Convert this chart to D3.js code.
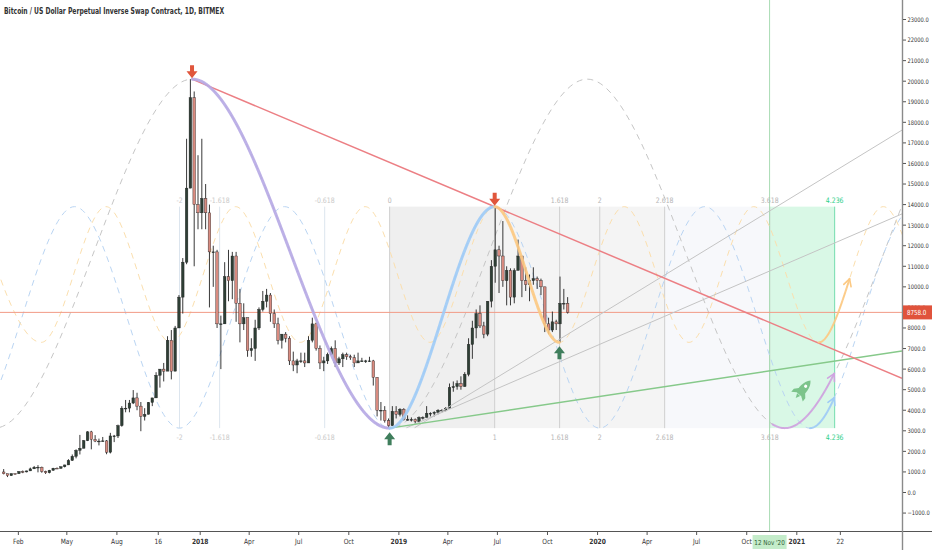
<!DOCTYPE html>
<html>
<head>
<meta charset="utf-8">
<title>Bitcoin / US Dollar Perpetual Inverse Swap Contract, 1D</title>
<style>
  html, body { margin: 0; padding: 0; background: #fff; overflow: hidden; }
  svg { display: block; }
  text { font-family: "Liberation Sans Narrow", "Arial Narrow", "DejaVu Sans Condensed", "Liberation Sans", sans-serif; }
</style>
<script src="https://d3js.org/d3.v7.min.js"></script>
</head>
<body>
<div id="chart"></div>
<script>
// ---- data (weekly candles) ----
const weekStart = "2017-01-02";
const firstOpen = 998;
const weeklyHigh = [
  1140, 910, 920, 925, 1040, 1070, 1060, 1210, 1290, 1330, 1260, 1060, 1100, 1200, 1220, 1270, 1350, 1620, 1850, 2100,
  2800, 2550, 2980, 3000, 2790, 2620, 2700, 2550, 2900, 2800, 3300, 4200, 4500, 4500, 4980, 4850, 4400, 4100, 4400, 4600,
  5850, 6000, 6300, 7600, 7900, 8100, 9600, 11400, 17200, 20100, 19500, 16400,
  17200, 15000, 14000, 12000, 11800, 8600, 11200, 11800, 11700, 11700, 9900, 9200, 8500, 7500, 8400, 9000, 9800, 9900,
  9700, 8900, 8500, 7700, 7800, 7600, 6850, 6500, 6800, 6800, 7600, 8500, 8250, 7150, 6600, 6800, 7100, 7400, 6600, 6800,
  6800, 6700, 6700, 6800, 6550, 6450, 6600, 6450, 5600, 4400, 4200, 3600, 4200, 4200,
  4100, 4100, 3750, 3650, 3600, 3700, 3700, 4200, 3900, 3950, 4050, 4050, 4150, 5300, 5400, 5450, 5650, 5850, 7500, 8350,
  8900, 9100, 8300, 9300, 11300, 13900, 12000, 13200, 11000, 10900, 10900, 12300, 11500, 10950, 10600, 10950, 10500, 10400,
  10000, 8500, 8800, 8400, 10500, 9900, 9500
];
const weeklyLow = [
  880, 750, 820, 880, 910, 940, 980, 1050, 1150, 980, 960, 900, 930, 1060, 1160, 1170, 1220, 1340, 1540, 1660,
  1850, 2150, 2500, 2100, 2450, 2290, 2480, 1860, 1900, 2450, 2650, 3200, 3900, 3900, 4300, 4000, 2980, 3500, 3800, 4200,
  4600, 5100, 5400, 6100, 5500, 5900, 8000, 8700, 11100, 14800, 11000, 12800,
  12800, 12800, 9000, 10000, 8000, 6000, 8200, 9300, 9400, 8300, 7300, 7900, 6600, 6600, 6400, 7900, 8800, 9000,
  8300, 8000, 7200, 7000, 7300, 6200, 5900, 5800, 6300, 6100, 6300, 7300, 6900, 6000, 5900, 6250, 6700, 6100, 6200, 6100,
  6450, 6450, 6100, 6300, 6350, 6300, 6350, 5200, 3700, 3500, 3400, 3130, 3250, 3600,
  3700, 3500, 3500, 3450, 3350, 3400, 3550, 3650, 3700, 3700, 3800, 3900, 3950, 4100, 4900, 5000, 5000, 5150, 5650, 6500,
  7500, 8000, 7500, 7600, 9000, 10200, 9700, 10000, 9100, 9100, 9200, 10800, 9500, 9800, 9300, 10100, 9900, 9600,
  7800, 7700, 7800, 7900, 7300, 8900, 8700
];
const weeklyClose = [
  910, 820, 920, 915, 1020, 1000, 1050, 1150, 1230, 1230, 1020, 960, 1080, 1180, 1170, 1250, 1340, 1560, 1760, 2050,
  2150, 2520, 2950, 2580, 2500, 2500, 2510, 1960, 2750, 2750, 3250, 4100, 4100, 4350, 4600, 4200, 3700, 3800, 4380, 4600,
  5700, 6000, 5900, 7400, 5900, 8000, 9500, 11200, 14800, 19200, 14000, 13600,
  14300, 13600, 11700, 11700, 8200, 8200, 10500, 10300, 11500, 9200, 8200, 8500, 6900, 7000, 8000, 8900, 9300, 9600,
  8700, 8200, 7400, 7700, 7500, 6400, 6200, 6400, 6400, 6300, 7400, 8200, 7000, 6300, 6400, 6700, 7000, 6300, 6500, 6700,
  6600, 6550, 6300, 6400, 6400, 6400, 6400, 5600, 4000, 4000, 3500, 3250, 3950, 3800,
  4050, 3550, 3550, 3550, 3450, 3650, 3650, 3850, 3850, 3900, 4000, 4000, 4100, 5100, 5150, 5300, 5150, 5750, 7200, 8000,
  8700, 8100, 7700, 9300, 11000, 11800, 11500, 10300, 10800, 9500, 10800, 11500, 10300, 10100, 10300, 10400, 10300, 10000,
  8200, 7900, 8300, 8200, 9200, 9200, 8758
];
const lastPrice = 8758;

// drawings: [date, price] anchors
const trendRed   = [["2017-12-17", 20100], ["2019-06-26", 13900]];
const trendGreen = [["2018-12-15", 3130], ["2021-07-13", 6880]];
const trendGrayA = [["2019-01-30", 3150], ["2019-10-23", 7450]];
const trendGrayB = [["2019-01-15", 3150], ["2020-03-19", 8050]];

const cycleGray   = [["2017-12-17", 20100], ["2018-12-15", 3130]];
const cycleBlue   = [["2018-12-15", 3130], ["2019-06-26", 13900]];
const cycleOrange = [["2019-06-26", 13900], ["2019-10-23", 7300]];

const fibAnchors = ["2018-12-15", "2019-06-26"];
const fibPrices = [3130, 13900];
const fibLevels = [-2, -1.618, -0.618, 0, 1, 1.618, 2, 2.618, 3.618, 4.236];

const downArrows = [["2017-12-17", 20100], ["2019-06-26", 13900]];
const upArrows = [["2018-12-15", 3130], ["2019-10-23", 7300]];
const rocketAt = ["2021-01-12", 5000];

const crossDate = "2020-11-12";
const crossLabel = "12 Nov '20";

const xTickDates = ["2017-02-01", "2017-05-01", "2017-08-01", "2017-10-16", "2018-01-01", "2018-04-01", "2018-07-01",
  "2018-10-01", "2019-01-01", "2019-04-01", "2019-07-01", "2019-10-01", "2020-01-01", "2020-04-01", "2020-07-01",
  "2020-10-01", "2021-01-01", "2021-03-22"];
const xTickLabels = ["Feb", "May", "Aug", "16", "2018", "Apr", "Jul", "Oct", "2019", "Apr", "Jul", "Oct", "2020",
  "Apr", "Jul", "Oct", "2021", "22"];
const yTicks = d3.range(-1000, 23001, 1000);

// ---- layout ----
const width = 932, height = 550;
const plotR = 902, plotB = 531;
const parse = d3.utcParse("%Y-%m-%d");
const DAY = 864e5;

const x = d3.scaleUtc()
  .domain([parse("2017-01-01"), parse("2021-01-01")])
  .range([1.5, 796.8]);
const y = d3.scaleLinear().domain([0, 23000]).range([492.5, 19.5]);

const svg = d3.select("#chart").append("svg")
  .attr("width", width).attr("height", height);

svg.append("defs").append("clipPath").attr("id", "plot")
  .append("rect").attr("x", 0).attr("y", 0).attr("width", plotR).attr("height", plotB);

const plot = svg.append("g").attr("clip-path", "url(#plot)");

// squeeze text a little toward the condensed look of the original
function narrow(sel, f) {
  sel.each(function () {
    const w = this.getComputedTextLength();
    d3.select(this).attr("textLength", w * f).attr("lengthAdjust", "spacingAndGlyphs");
  });
}

// ---- fib time zones ----
const f0 = parse(fibAnchors[0]).getTime(), f1 = parse(fibAnchors[1]).getTime();
const fibX = lv => x(new Date(f0 + lv * (f1 - f0)));
const fibTop = y(fibPrices[1]), fibBot = y(fibPrices[0]);

const zones = [[0, 1, "#efefef"], [1, 2.618, "#f4f4f4"], [2.618, 3.618, "#f7f8fb"], [3.618, 4.236, "#d9f8e6"]];
plot.selectAll(".zone").data(zones).enter().append("rect")
  .attr("x", d => fibX(d[0])).attr("width", d => fibX(d[1]) - fibX(d[0]))
  .attr("y", fibTop).attr("height", fibBot - fibTop)
  .attr("fill", d => d[2]);

const lvColor = lv => lv < 0 ? "#dce5ee" : lv === 4.236 ? "#74dcae" : "#cfcfcf";
const lbColor = lv => lv < 0 ? "#c9c9c9" : lv === 4.236 ? "#2ccf8a" : "#b5b5b5";
plot.selectAll(".fibline").data(fibLevels).enter().append("line")
  .attr("x1", fibX).attr("x2", fibX).attr("y1", fibTop).attr("y2", fibBot)
  .attr("stroke", lvColor).attr("stroke-width", 1);

// crosshair vertical
plot.append("line")
  .attr("x1", x(parse(crossDate))).attr("x2", x(parse(crossDate)))
  .attr("y1", 0).attr("y2", plotB)
  .attr("stroke", "#a9dcb3").attr("stroke-width", 1);

// ---- sine cycles ----
function cyclePoints(c) {
  const ta = parse(c[0][0]).getTime(), tb = parse(c[1][0]).getTime(), half = tb - ta;
  const pts = [];
  for (let k = -8; k <= 10; k++) {
    const px = x(new Date(ta + k * half));
    if (px < -400 || px > 1300) continue;
    pts.push([px, y(k % 2 === 0 ? c[0][1] : c[1][1])]);
  }
  return pts;
}
const curve = d3.line().curve(d3.curveMonotoneX);

function drawCycle(c, color, dash) {
  const p = plot.append("path")
    .attr("d", curve(cyclePoints(c)))
    .attr("fill", "none").attr("stroke", color)
    .attr("stroke-width", 1).attr("stroke-dasharray", dash);
  const node = p.node(), len = node.getTotalLength(), samples = [];
  for (let l = 0; l <= len; l += 0.5) {
    const q = node.getPointAtLength(l);
    samples.push([q.x, q.y]);
  }
  return samples;
}
const sGray = drawCycle(cycleGray, "#c6c6c6", "6,5");
const sBlue = drawCycle(cycleBlue, "#bad5f3", "6,5");
const sOrange = drawCycle(cycleOrange, "#fbdfae", "6,5");

// ---- last price line ----
plot.append("line")
  .attr("x1", 0).attr("x2", plotR).attr("y1", y(lastPrice)).attr("y2", y(lastPrice))
  .attr("stroke", "#f29a86").attr("stroke-width", 1);

// ---- candles ----
const candles = weeklyClose.map((c, i) => ({
  t: new Date(parse(weekStart).getTime() + (i * 7 + 3) * DAY),
  o: i === 0 ? firstOpen : weeklyClose[i - 1],
  h: weeklyHigh[i], l: weeklyLow[i], c: c
}));
const cg = plot.append("g");
cg.selectAll(".wick").data(candles).enter().append("line")
  .attr("x1", d => x(d.t)).attr("x2", d => x(d.t))
  .attr("y1", d => y(d.h)).attr("y2", d => y(d.l))
  .attr("stroke", "#222").attr("stroke-width", 0.9);
cg.selectAll(".body").data(candles).enter().append("rect")
  .attr("x", d => x(d.t) - 1.3).attr("width", 2.6)
  .attr("y", d => y(Math.max(d.o, d.c)))
  .attr("height", d => Math.max(0.8, Math.abs(y(d.o) - y(d.c))))
  .attr("fill", d => d.c >= d.o ? "#2e3f35" : "#d98b80")
  .attr("stroke", "#222").attr("stroke-width", 0.4);

// ---- trend lines (extended to the right edge) ----
function trendEnds(a) {
  const x1 = x(parse(a[0][0])), y1 = y(a[0][1]), x2 = x(parse(a[1][0])), y2 = y(a[1][1]);
  const s = (y2 - y1) / (x2 - x1);
  return [x1, y1, plotR, y1 + s * (plotR - x1)];
}
[[trendGrayA, "#c4c4c4", 1], [trendGrayB, "#c4c4c4", 1], [trendGreen, "#86c98a", 1.4], [trendRed, "#ec7f84", 1.5]]
  .forEach(([a, col, w]) => {
    const e = trendEnds(a);
    plot.append("line").attr("x1", e[0]).attr("y1", e[1]).attr("x2", e[2]).attr("y2", e[3])
      .attr("stroke", col).attr("stroke-width", w);
  });

// ---- solid cycle segments and arrows ----
const line = d3.line();
function segment(samples, d0, d1, color, arrow) {
  const xa = x(parse(d0)), xb = x(parse(d1));
  const pts = samples.filter(p => p[0] >= xa && p[0] <= xb);
  plot.append("path").attr("d", line(pts))
    .attr("fill", "none").attr("stroke", color).attr("stroke-width", arrow ? 2 : 3)
    .attr("stroke-linecap", "round").attr("stroke-opacity", 0.9);
  if (!arrow) return;
  const e = pts[pts.length - 1];
  let b = pts[0];
  for (let i = pts.length - 1; i >= 0; i--) {
    if (Math.hypot(e[0] - pts[i][0], e[1] - pts[i][1]) >= 7) { b = pts[i]; break; }
  }
  const a = Math.atan2(e[1] - b[1], e[0] - b[0]);
  const head = [[e[0] - 8 * Math.cos(a - 0.5), e[1] - 8 * Math.sin(a - 0.5)], e,
                [e[0] - 8 * Math.cos(a + 0.5), e[1] - 8 * Math.sin(a + 0.5)]];
  plot.append("path").attr("d", line(head))
    .attr("fill", "none").attr("stroke", color).attr("stroke-width", 1.6)
    .attr("stroke-linecap", "round").attr("stroke-linejoin", "round");
}
segment(sGray, "2017-12-17", "2018-12-15", "#b6a9e4", false);
segment(sBlue, "2018-12-15", "2019-06-26", "#9fcbf6", false);
segment(sOrange, "2019-06-26", "2019-10-23", "#fcc983", false);
segment(sGray, "2020-11-17", "2021-03-11", "#cfa2e0", true);
segment(sBlue, "2021-01-25", "2021-03-11", "#9fcbf6", true);
segment(sOrange, "2021-02-10", "2021-04-08", "#fcc983", true);

// ---- fib labels ----
[fibTop - 4, fibBot + 12].forEach(ly => {
  svg.selectAll(null).data(fibLevels).enter().append("text")
    .attr("x", fibX).attr("y", ly).attr("text-anchor", "middle")
    .attr("font-size", 7.5).attr("fill", lbColor).text(d => String(d))
    .call(narrow, 0.92);
});

// ---- pivot arrows ----
const downShape = "M-2,-13 L2,-13 L2,-7 L5.5,-7 L0,0 L-5.5,-7 L-2,-7 Z";
const upShape = "M-2,13 L2,13 L2,7 L5.5,7 L0,0 L-5.5,7 L-2,7 Z";
svg.selectAll(".dn").data(downArrows).enter().append("path")
  .attr("d", downShape).attr("fill", "#e0563c")
  .attr("transform", d => `translate(${x(parse(d[0]))},${y(d[1]) - 1})`);
svg.selectAll(".up").data(upArrows).enter().append("path")
  .attr("d", upShape).attr("fill", "#3f7e5c")
  .attr("transform", d => `translate(${x(parse(d[0]))},${y(d[1]) + 4})`);

// ---- rocket ----
const rocket = svg.append("g")
  .attr("transform", `translate(${x(parse(rocketAt[0]))},${y(rocketAt[1])}) rotate(40)`)
  .attr("fill", "#7cc48b");
rocket.append("path").attr("d", "M0,-12 C5,-7 5,2 3,6 L-3,6 C-5,2 -5,-7 0,-12 Z");
rocket.append("path").attr("d", "M-3,0 L-7.5,5 L-7.5,9 L-3,6 Z M3,0 L7.5,5 L7.5,9 L3,6 Z");
rocket.append("path").attr("d", "M-2,6.5 L0,11 L2,6.5 Z");
rocket.append("circle").attr("cx", 0).attr("cy", -4.5).attr("r", 1.6).attr("fill", "#fff");

// ---- axes ----
svg.append("line").attr("x1", 0).attr("x2", width).attr("y1", plotB + 0.5).attr("y2", plotB + 0.5)
  .attr("stroke", "#555").attr("stroke-width", 1);
svg.append("line").attr("x1", plotR + 0.5).attr("x2", plotR + 0.5).attr("y1", 0).attr("y2", height)
  .attr("stroke", "#8a8a8a").attr("stroke-width", 1.4);

const yAxis = svg.append("g");
yAxis.selectAll("line").data(yTicks).enter().append("line")
  .attr("x1", plotR + 1).attr("x2", plotR + 4).attr("y1", d => y(d)).attr("y2", d => y(d))
  .attr("stroke", "#555");
yAxis.selectAll("text").data(yTicks).enter().append("text")
  .attr("x", plotR + 5.5).attr("y", d => y(d) + 2.4)
  .attr("font-size", 6.2).attr("fill", "#333").text(d3.format(".1f"))
  .call(narrow, 0.92);

const xAxis = svg.append("g");
xAxis.selectAll("line").data(xTickDates).enter().append("line")
  .attr("x1", d => x(parse(d))).attr("x2", d => x(parse(d)))
  .attr("y1", plotB + 1).attr("y2", plotB + 4).attr("stroke", "#555");
xAxis.selectAll("text").data(xTickDates).enter().append("text")
  .attr("x", d => x(parse(d))).attr("y", plotB + 13).attr("text-anchor", "middle")
  .attr("font-size", 7.2).attr("fill", "#333")
  .attr("font-weight", (d, i) => /^\d{4}$/.test(xTickLabels[i]) ? "bold" : "normal")
  .text((d, i) => xTickLabels[i])
  .call(narrow, 0.92);

// crosshair date label
const cx = x(parse(crossDate));
svg.append("rect").attr("x", cx - 17).attr("y", plotB + 4).attr("width", 34).attr("height", 14)
  .attr("fill", "#c4ecca");
svg.append("text").attr("x", cx).attr("y", plotB + 13.5).attr("text-anchor", "middle")
  .attr("font-size", 6.8).attr("fill", "#2e5b34").text(crossLabel)
  .call(narrow, 0.92);

// last price label
svg.append("rect").attr("x", plotR + 1).attr("y", y(lastPrice) - 7).attr("width", width - plotR - 1).attr("height", 14)
  .attr("fill", "#e0533c");
svg.append("text").attr("x", plotR + 5).attr("y", y(lastPrice) + 2.8)
  .attr("font-size", 7).attr("fill", "#fff").text(d3.format(".1f")(lastPrice))
  .call(narrow, 0.88);

// title
svg.append("text").attr("x", 4).attr("y", 13.5)
  .attr("font-size", 8.5).attr("font-weight", "bold").attr("fill", "#333")
  .text("Bitcoin / US Dollar Perpetual Inverse Swap Contract, 1D, BITMEX")
  .call(narrow, 0.79);
</script>
</body>
</html>
